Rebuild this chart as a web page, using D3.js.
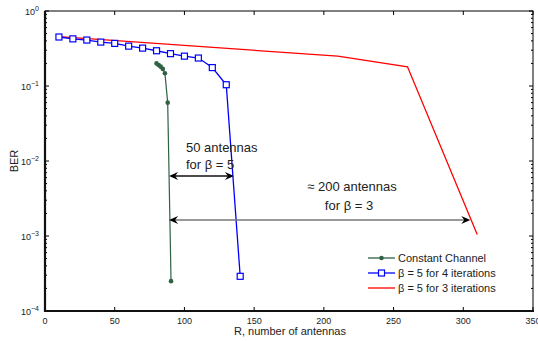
<!DOCTYPE html>
<html>
<head>
<meta charset="utf-8">
<script src="https://cdn.jsdelivr.net/npm/d3@7"></script>
<style>
body{margin:0;background:#fff;}
svg{display:block;font-family:"Liberation Sans",Arial,sans-serif;}
</style>
</head>
<body>
<svg id="c" width="538" height="341"></svg>
<script>
// Data
const constX = [80, 81.5, 83, 84.5, 86, 88, 90.4];
const constY = [0.200, 0.190, 0.181, 0.169, 0.148, 0.060, 0.00025];
const b4X = [10, 20, 30, 40, 50, 60, 70, 80, 90, 100, 110, 120, 130, 140];
const b4Y = [0.450, 0.425, 0.410, 0.385, 0.370, 0.340, 0.320, 0.295, 0.270, 0.250, 0.236, 0.176, 0.104, 0.00029];
const b3X = [10, 210, 260, 310];
const b3Y = [0.455, 0.250, 0.180, 0.00105];
const xTicks = [0, 50, 100, 150, 200, 250, 300, 350];
const yTickExps = [0, -1, -2, -3, -4];
const legendLabels = ["Constant Channel", "\u03b2 = 5 for 4 iterations", "\u03b2 = 5 for 3 iterations"];
const seriesColors = ["#2f6145", "#0000ff", "#ff0000"];

const svg = d3.select("#c");
const L = 45, R = 533, T = 11, B = 311;
const x = d3.scaleLinear().domain([0, 350]).range([L, R]);
const y = d3.scaleLog().domain([1e-4, 1]).range([B, T]);

// minor ticks
const minor = [];
for (let e = -4; e < 0; e++) for (let k = 2; k <= 9; k++) minor.push(k * Math.pow(10, e));

const g = svg.append("g");
// left & right minor/major ticks
minor.forEach(v => {
  g.append("line").attr("x1", L).attr("x2", L + 2).attr("y1", y(v)).attr("y2", y(v)).attr("stroke", "#000").attr("stroke-width", 1);
  g.append("line").attr("x1", R).attr("x2", R - 2).attr("y1", y(v)).attr("y2", y(v)).attr("stroke", "#000").attr("stroke-width", 1);
});
yTickExps.forEach(e => {
  const v = Math.pow(10, e);
  g.append("line").attr("x1", L).attr("x2", L + 4).attr("y1", y(v)).attr("y2", y(v)).attr("stroke", "#000");
  g.append("line").attr("x1", R).attr("x2", R - 4).attr("y1", y(v)).attr("y2", y(v)).attr("stroke", "#000");
  const t = g.append("text").attr("x", L - 6).attr("y", y(v) + 3.5).attr("text-anchor", "end")
    .attr("font-size", 9).attr("fill", "#222");
  t.append("tspan").text("10");
  t.append("tspan").attr("dy", -4).attr("font-size", 7).text(e === 0 ? "0" : "\u2212" + Math.abs(e));
});
xTicks.forEach(v => {
  g.append("line").attr("x1", x(v)).attr("x2", x(v)).attr("y1", B).attr("y2", B - 4).attr("stroke", "#000");
  g.append("line").attr("x1", x(v)).attr("x2", x(v)).attr("y1", T).attr("y2", T + 4).attr("stroke", "#000");
  g.append("text").attr("x", x(v)).attr("y", B + 13).attr("text-anchor", "middle")
    .attr("font-size", 9).attr("fill", "#222").text(v);
});
// frame
g.append("rect").attr("x", L).attr("y", T).attr("width", R - L).attr("height", B - T)
  .attr("fill", "none").attr("stroke", "#000").attr("stroke-width", 1);
g.append("line").attr("x1", L).attr("x2", L).attr("y1", T).attr("y2", B + 1).attr("stroke", "#111").attr("stroke-width", 2.2);
g.append("line").attr("x1", L - 1).attr("x2", R + 1).attr("y1", B).attr("y2", B).attr("stroke", "#111").attr("stroke-width", 2.2);

// axis labels
svg.append("text").attr("transform", `translate(18,${(T + B) / 2}) rotate(-90)`).attr("text-anchor", "middle")
  .attr("font-size", 11).attr("fill", "#222").text("BER");
svg.append("text").attr("x", 290).attr("y", 335).attr("text-anchor", "middle")
  .attr("font-size", 11).attr("fill", "#222").text("R, number of antennas");

const line = d3.line().x(d => x(d[0])).y(d => y(d[1]));
const zip = (a, b) => a.map((v, i) => [v, b[i]]);

// red series
svg.append("path").attr("d", line(zip(b3X, b3Y))).attr("fill", "none").attr("stroke", seriesColors[2]).attr("stroke-width", 1.3);
// blue series
const bd = zip(b4X, b4Y);
svg.append("path").attr("d", line(bd)).attr("fill", "none").attr("stroke", seriesColors[1]).attr("stroke-width", 1.3);
svg.selectAll(".sq").data(bd).enter().append("rect").attr("x", d => x(d[0]) - 3).attr("y", d => y(d[1]) - 3)
  .attr("width", 6).attr("height", 6).attr("fill", "#fff").attr("stroke", seriesColors[1]).attr("stroke-width", 1.2);
// green series
const cd = zip(constX, constY);
svg.append("path").attr("d", line(cd)).attr("fill", "none").attr("stroke", seriesColors[0]).attr("stroke-width", 1.2);
svg.selectAll(".ci").data(cd).enter().append("circle").attr("cx", d => x(d[0])).attr("cy", d => y(d[1]))
  .attr("r", 2.3).attr("fill", seriesColors[0]);

// arrows
function arrow(x1, x2, yy, col) {
  svg.append("line").attr("x1", x1 + 2).attr("x2", x2 - 2).attr("y1", yy).attr("y2", yy).attr("stroke", col).attr("stroke-width", 1.6);
  const head = (tx, dir) => {
    svg.append("path").attr("d", `M${tx},${yy} L${tx + dir * 9},${yy - 4} L${tx + dir * 6},${yy} L${tx + dir * 9},${yy + 4} Z`).attr("fill", "#000");
  };
  head(x1, 1); head(x2, -1);
}
arrow(x(89), x(135.5), 176, "#111");
arrow(x(89), x(305), 220, "#777");

// annotations
svg.append("text").attr("x", 186).attr("y", 152).attr("font-size", 13).attr("fill", "#222").text("50 antennas");
svg.append("text").attr("x", 186).attr("y", 169).attr("font-size", 13).attr("fill", "#222").text("for \u03b2 = 5");
svg.append("text").attr("x", 352).attr("y", 191).attr("text-anchor", "middle").attr("font-size", 13).attr("fill", "#222").text("\u2248 200 antennas");
svg.append("text").attr("x", 349).attr("y", 210).attr("text-anchor", "middle").attr("font-size", 13).attr("fill", "#222").text("for \u03b2 = 3");

// legend
legendLabels.forEach((lab, i) => {
  const yy = 258 + i * 15;
  svg.append("line").attr("x1", 368).attr("x2", 395).attr("y1", yy).attr("y2", yy).attr("stroke", seriesColors[i]).attr("stroke-width", 1.3);
  if (i === 0) svg.append("circle").attr("cx", 381.5).attr("cy", yy).attr("r", 2.3).attr("fill", seriesColors[0]);
  if (i === 1) svg.append("rect").attr("x", 378.5).attr("y", yy - 3).attr("width", 6).attr("height", 6).attr("fill", "#fff").attr("stroke", seriesColors[1]).attr("stroke-width", 1.2);
  svg.append("text").attr("x", 398).attr("y", yy + 4).attr("font-size", 11).attr("fill", "#222").text(lab);
});
</script>
</body>
</html>
